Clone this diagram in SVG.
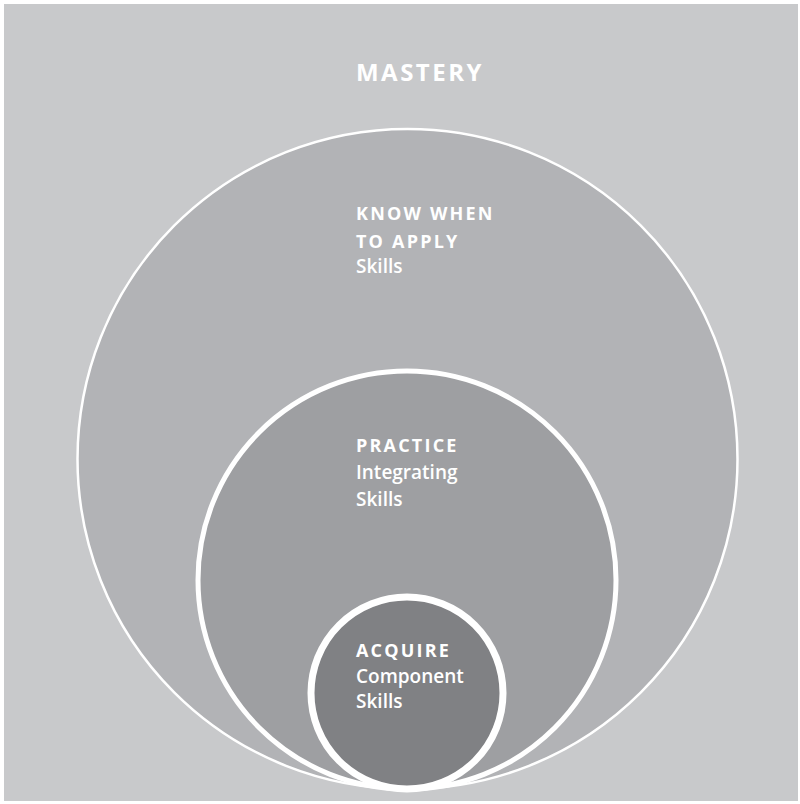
<svg xmlns="http://www.w3.org/2000/svg" width="800" height="804" viewBox="0 0 800 804">
<style>
.ring{stroke:#ffffff;}
.h{font-family:"Open Sans","Noto Sans","Liberation Sans",sans-serif;font-weight:700;fill:#ffffff;letter-spacing:2.2px;font-size:18px;}
.s{font-family:"Open Sans","Noto Sans","Liberation Sans",sans-serif;font-weight:600;fill:#ffffff;font-size:19px;}
</style>
<rect x="4" y="4" width="794" height="797" fill="#c8c9cb"/>
<g id="mastery">
<text class="h" x="420" y="81" style="font-size:24px;letter-spacing:2.5px" text-anchor="middle">MASTERY</text>
</g>
<g id="know-when-to-apply">
<circle class="ring" cx="407.5" cy="459" r="330" fill="#b2b3b6" stroke-width="2.5"/>
<text class="h" x="356" y="220">KNOW WHEN</text>
<text class="h" x="356" y="248">TO APPLY</text>
<text class="s" x="356" y="273">Skills</text>
</g>
<g id="practice">
<circle class="ring" cx="407" cy="580" r="209" fill="#9e9fa2" stroke-width="5"/>
<text class="h" x="356" y="452">PRACTICE</text>
<text class="s" x="356" y="479">Integrating</text>
<text class="s" x="356" y="506">Skills</text>
</g>
<g id="acquire">
<circle class="ring" cx="407" cy="693" r="96" fill="#808184" stroke-width="7"/>
<text class="h" x="356" y="657">ACQUIRE</text>
<text class="s" x="356" y="683">Component</text>
<text class="s" x="356" y="708">Skills</text>
</g>
<g id="connectors"></g>
</svg>
